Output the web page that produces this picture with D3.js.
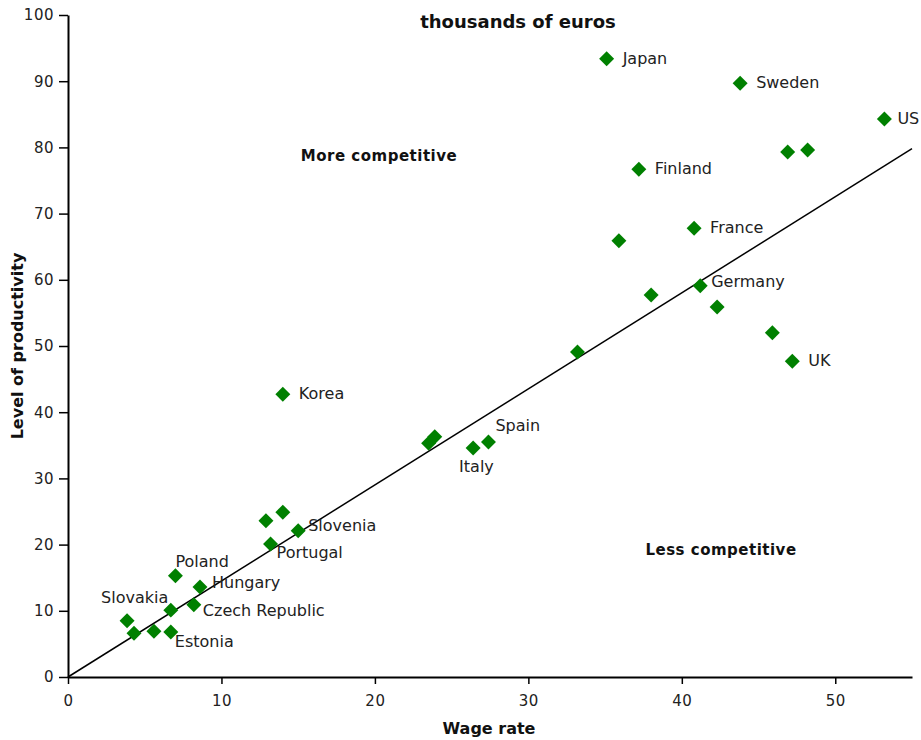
<!DOCTYPE html>
<html><head><meta charset="utf-8">
<script src="https://cdn.jsdelivr.net/npm/d3@7/dist/d3.min.js"></script>
<style>body{margin:0;background:#fff}svg{display:block}</style>
</head><body>
<script>
// Data (thousands of euros)
const names = ["Japan","Sweden","US","","","Finland","France","","Germany","","","","UK","","Korea","","","Italy","Spain","","","Slovenia","Portugal","Poland","Hungary","Czech Republic","","Slovakia","","","Estonia"];
const wage = [35.1,43.8,53.2,46.9,48.2,37.2,40.8,35.9,41.2,38.0,42.3,45.9,47.2,33.2,14.0,23.5,23.9,26.4,27.4,12.9,14.0,15.0,13.2,7.0,8.6,8.2,6.7,3.85,4.3,5.6,6.7];
const productivity = [93.4,89.7,84.3,79.3,79.6,76.7,67.8,65.9,59.1,57.7,55.9,52.0,47.7,49.1,42.7,35.3,36.3,34.6,35.5,23.6,24.9,22.1,20.1,15.3,13.6,10.9,10.1,8.5,6.6,6.9,6.8];
// label placement: dx, dy relative to point (px)
const labelPos = {
  "Japan":[16,5],"Sweden":[16,5],"US":[13,5],"Finland":[16,5],"France":[16,5],
  "Germany":[11,1],"UK":[16,5],"Korea":[16,5],"Italy":[-14,24],"Spain":[7,-11],
  "Slovenia":[10,0],"Portugal":[6,14],"Poland":[0,-9],"Hungary":[12,1],
  "Czech Republic":[9,11],"Slovakia":[-26,-18],"Estonia":[4,15]
};
const trendLine = [[0,0],[55,79.8]];
const xTicks = [0,10,20,30,40,50];
const yTicks = [0,10,20,30,40,50,60,70,80,90,100];

const W = 921, H = 740;
const m = {l:68, r:9, t:15, b:63};
const svg = d3.select("body").append("svg").attr("width",W).attr("height",H);
const x = d3.scaleLinear().domain([0,55]).range([m.l, W-m.r]);
const y = d3.scaleLinear().domain([0,100]).range([H-m.b, m.t]);
const font = "Verdana, 'DejaVu Sans', sans-serif";

// axes
const xAxis = svg.append("g").attr("transform",`translate(0,${y(0)})`)
  .call(d3.axisBottom(x).tickValues(xTicks).tickSize(7).tickPadding(11).tickSizeOuter(0));
const yAxis = svg.append("g").attr("transform",`translate(${x(0)},0)`)
  .call(d3.axisLeft(y).tickValues(yTicks).tickSize(9).tickPadding(5).tickSizeOuter(0));
[xAxis,yAxis].forEach(a=>{
  a.select(".domain").attr("stroke","#000").attr("stroke-width",2);
  a.selectAll(".tick line").attr("stroke","#000").attr("stroke-width",1.5);
  a.selectAll(".tick text").attr("fill","#222").attr("font-size",15).attr("letter-spacing","0.5px").attr("font-family",font);
});

// trend line
svg.append("line")
  .attr("x1",x(trendLine[0][0])).attr("y1",y(trendLine[0][1]))
  .attr("x2",x(trendLine[1][0])).attr("y2",y(trendLine[1][1]))
  .attr("stroke","#000").attr("stroke-width",1.5);

// points
const sym = d3.symbol().type(d3.symbolSquare).size(112);
svg.append("g").selectAll("path").data(wage.map((w,i)=>({w,p:productivity[i],n:names[i]})))
  .join("path")
  .attr("d",sym)
  .attr("transform",d=>`translate(${x(d.w)},${y(d.p)}) rotate(45)`)
  .attr("fill","#008000");

// labels
svg.append("g").selectAll("text").data(wage.map((w,i)=>({w,p:productivity[i],n:names[i]})).filter(d=>d.n))
  .join("text")
  .attr("x",d=>x(d.w)+labelPos[d.n][0])
  .attr("y",d=>y(d.p)+labelPos[d.n][1])
  .text(d=>d.n)
  .attr("font-family",font).attr("font-size",16).attr("fill","#222");

// annotations
const ann = [
  {t:"thousands of euros", x:518, y:28, s:18, ls:0},
  {t:"More competitive", x:379, y:161, s:15, ls:0.5},
  {t:"Less competitive", x:721, y:555, s:15, ls:0.5}
];
svg.append("g").selectAll("text").data(ann).join("text")
  .attr("x",d=>d.x).attr("y",d=>d.y).attr("text-anchor","middle")
  .attr("font-family",font).attr("font-weight","bold").attr("font-size",d=>d.s)
  .attr("letter-spacing",d=>d.ls+"px").attr("fill","#111")
  .text(d=>d.t);

// axis titles
svg.append("text").attr("x",(x(0)+x(55))/2 - 1).attr("y",734).attr("text-anchor","middle")
  .attr("font-family","'DejaVu Sans',sans-serif").attr("font-weight","bold").attr("font-size",16)
  .attr("fill","#111").text("Wage rate");
svg.append("text").attr("transform",`translate(23,${(y(0)+y(100))/2}) rotate(-90)`).attr("text-anchor","middle")
  .attr("font-family","'DejaVu Sans',sans-serif").attr("font-weight","bold").attr("font-size",16)
  .attr("fill","#111").text("Level of productivity");
</script>
</body></html>
